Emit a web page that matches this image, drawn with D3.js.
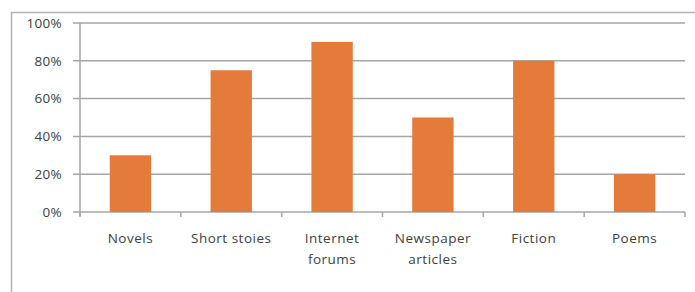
<!DOCTYPE html>
<html>
<head>
<meta charset="utf-8">
<script src="https://cdn.jsdelivr.net/npm/d3@7"></script>
<style>
  body { margin: 0; background: #fff; }
  svg { display: block; font-family: "Open Sans", sans-serif; }
</style>
</head>
<body>
<div id="chart"></div>
<script>
const categories = ["Novels", "Short stoies", "Internet\nforums", "Newspaper\narticles", "Fiction", "Poems"];
const values = [0.30, 0.75, 0.90, 0.50, 0.80, 0.20];
const yTicks = [0, 0.2, 0.4, 0.6, 0.8, 1.0];

const width = 695, height = 292;
const margin = { top: 23, right: 10, bottom: 80, left: 80 };

const svg = d3.select("#chart").append("svg")
  .attr("width", width)
  .attr("height", height);

// outer chart border
svg.append("rect")
  .attr("x", 11.5).attr("y", 12.5)
  .attr("width", width + 10).attr("height", height + 10)
  .attr("fill", "none")
  .attr("stroke", "#b4b4b4")
  .attr("stroke-width", 1.5);

const x = d3.scaleBand()
  .domain(categories)
  .range([margin.left, width - margin.right])
  .paddingInner(0.59)
  .paddingOuter(0.295);

const y = d3.scaleLinear()
  .domain([0, 1])
  .range([212, margin.top]);

// gridlines
svg.append("g")
  .selectAll("line")
  .data(yTicks)
  .join("line")
  .attr("x1", margin.left - 7)
  .attr("x2", width - margin.right)
  .attr("y1", d => y(d))
  .attr("y2", d => y(d))
  .attr("stroke", "#a6a6a6")
  .attr("stroke-width", 1.5);

// y axis line
svg.append("line")
  .attr("x1", margin.left).attr("x2", margin.left)
  .attr("y1", y(1)).attr("y2", y(0) + 4)
  .attr("stroke", "#a6a6a6")
  .attr("stroke-width", 1.5);

// x ticks at band edges
const edges = categories.map(c => x(c) - x.step() * x.paddingInner() / 2);
edges.push(width - margin.right);
edges[0] = margin.left;
svg.append("g")
  .selectAll("line")
  .data(edges)
  .join("line")
  .attr("x1", d => d).attr("x2", d => d)
  .attr("y1", y(0)).attr("y2", y(0) + 5)
  .attr("stroke", "#a6a6a6")
  .attr("stroke-width", 1.5);

// bars
svg.append("g")
  .selectAll("rect")
  .data(values)
  .join("rect")
  .attr("x", (d, i) => x(categories[i]))
  .attr("width", x.bandwidth())
  .attr("y", d => y(d))
  .attr("height", d => y(0) - y(d))
  .attr("fill", "#e57b3a");

// y labels
svg.append("g")
  .selectAll("text")
  .data(yTicks)
  .join("text")
  .attr("x", 62)
  .attr("y", d => y(d))
  .attr("dy", "0.35em")
  .attr("text-anchor", "end")
  .attr("fill", "#404040")
  .attr("font-size", 13.5)
  .attr("letter-spacing", 0.3)
  .text(d3.format(".0%"));

// x labels
const xl = svg.append("g")
  .selectAll("text")
  .data(categories)
  .join("text")
  .attr("x", d => x(d) + x.bandwidth() / 2)
  .attr("y", 243)
  .attr("text-anchor", "middle")
  .attr("fill", "#404040")
  .attr("font-size", 13.5)
  .attr("letter-spacing", 0.5);
xl.selectAll("tspan")
  .data(d => d.split("\n"))
  .join("tspan")
  .attr("x", function () { return this.parentNode.getAttribute("x"); })
  .attr("dy", (d, i) => i ? 21 : 0)
  .text(d => d);
</script>
</body>
</html>
